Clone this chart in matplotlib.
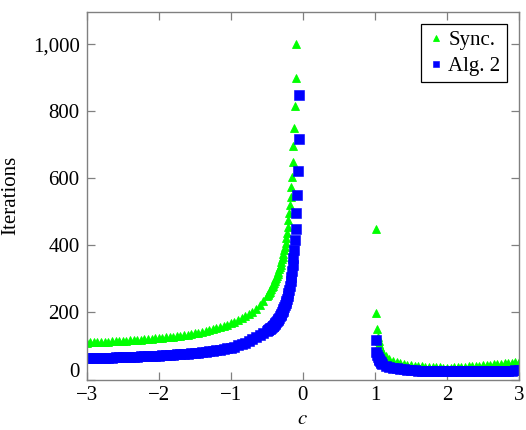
import matplotlib
matplotlib.use("Agg")
import matplotlib.pyplot as plt
import matplotlib.transforms as mtransforms
from matplotlib.ticker import FuncFormatter

plt.rcParams['font.family'] = ['Liberation Serif', 'DejaVu Serif']
plt.rcParams['mathtext.fontset'] = 'stix'

# ---------------- data ----------------
# left branch, c < 0
c_left_sync = [-3.00, -2.95, -2.90, -2.85, -2.80, -2.75, -2.70, -2.65, -2.60, -2.55,
               -2.50, -2.45, -2.40, -2.35, -2.30, -2.25, -2.20, -2.15, -2.10, -2.05,
               -2.00, -1.95, -1.90, -1.85, -1.80, -1.75, -1.70, -1.65, -1.60, -1.55,
               -1.50, -1.45, -1.40, -1.35, -1.30, -1.25, -1.20, -1.15, -1.10, -1.05,
               -1.00, -0.95, -0.90, -0.85, -0.80, -0.75, -0.70, -0.65, -0.60, -0.55,
               -0.50, -0.49, -0.48, -0.47, -0.46, -0.45, -0.44, -0.43, -0.42, -0.41,
               -0.40, -0.39, -0.38, -0.37, -0.36, -0.35, -0.34, -0.33, -0.32, -0.31,
               -0.30, -0.29, -0.28, -0.27, -0.26, -0.25, -0.24, -0.23, -0.22, -0.21,
               -0.20, -0.19, -0.18, -0.17, -0.16, -0.15, -0.14, -0.13, -0.12, -0.11,
               -0.10, -0.09]
sync_left = [110, 111, 111, 112, 112, 113, 113, 114, 114, 115,
             116, 116, 117, 118, 118, 119, 120, 121, 122, 123,
             124, 125, 126, 127, 128, 130, 131, 133, 134, 136,
             138, 140, 142, 144, 147, 150, 153, 156, 160, 164,
             168, 172, 177, 182, 188, 195, 202, 211, 221, 233,
             248, 251, 255, 258, 262, 266, 270, 275, 279, 284,
             289, 294, 299, 304, 310, 316, 322, 329, 336, 343,
             350, 358, 366, 375, 385, 396, 408, 421, 436, 455,
             476, 497, 521, 545, 575, 605, 650, 695, 751, 817,
             898, 1000]

c_left_alg2 = [-3.00, -2.95, -2.90, -2.85, -2.80, -2.75, -2.70, -2.65, -2.60, -2.55,
               -2.50, -2.45, -2.40, -2.35, -2.30, -2.25, -2.20, -2.15, -2.10, -2.05,
               -2.00, -1.95, -1.90, -1.85, -1.80, -1.75, -1.70, -1.65, -1.60, -1.55,
               -1.50, -1.45, -1.40, -1.35, -1.30, -1.25, -1.20, -1.15, -1.10, -1.05,
               -1.00, -0.95, -0.90, -0.85, -0.80, -0.75, -0.70, -0.65, -0.60, -0.55,
               -0.50, -0.49, -0.48, -0.47, -0.46, -0.45, -0.44, -0.43, -0.42, -0.41,
               -0.40, -0.39, -0.38, -0.37, -0.36, -0.35, -0.34, -0.33, -0.32, -0.31,
               -0.30, -0.29, -0.28, -0.27, -0.26, -0.25, -0.24, -0.23, -0.22, -0.21,
               -0.20, -0.19, -0.18, -0.17, -0.16, -0.15, -0.14, -0.13, -0.12, -0.11,
               -0.10, -0.09, -0.08, -0.07, -0.06, -0.05]
alg2_left = [63, 63, 63, 64, 64, 64, 65, 65, 66, 66,
             67, 67, 67, 68, 68, 69, 69, 70, 70, 71,
             71, 72, 73, 73, 74, 75, 76, 77, 77, 78,
             79, 80, 81, 83, 84, 85, 87, 89, 91, 93,
             95, 98, 102, 106, 110, 115, 121, 128, 134, 140,
             146, 147, 148, 150, 151, 153, 155, 157, 159, 161,
             163, 165, 168, 171, 174, 177, 180, 184, 188, 192,
             196, 200, 205, 210, 215, 221, 227, 234, 241, 249,
             258, 268, 280, 293, 307, 323, 341, 362, 386, 416,
             450, 496, 551, 623, 718, 848]

# right branch, c > 1
c_right = [1.01, 1.02, 1.03, 1.04, 1.05, 1.06, 1.07, 1.08, 1.09, 1.10,
           1.15, 1.20, 1.25, 1.30, 1.35, 1.40, 1.45, 1.50, 1.55, 1.60,
           1.65, 1.70, 1.75, 1.80, 1.85, 1.90, 1.95, 2.00, 2.05, 2.10,
           2.15, 2.20, 2.25, 2.30, 2.35, 2.40, 2.45, 2.50, 2.55, 2.60,
           2.65, 2.70, 2.75, 2.80, 2.85, 2.90, 2.95, 3.00]
sync_right = [448, 197, 152, 128, 114, 105, 98, 92, 87, 83,
              70, 62, 56, 52, 49, 46, 44, 43, 41, 40,
              39, 38, 37, 37, 36, 36, 35, 35, 35, 36,
              36, 37, 38, 39, 40, 41, 41, 42, 43, 44,
              45, 46, 47, 48, 49, 50, 51, 52]
alg2_right = [119, 81, 72, 66, 61, 57, 54, 51, 49, 47,
              41, 37, 35, 33, 31, 30, 29, 28, 27, 26,
              26, 25, 25, 24, 24, 24, 24, 24, 24, 24,
              24, 24, 24, 24, 24, 24, 24, 24, 25, 25,
              25, 25, 26, 26, 26, 26, 27, 27]

x_ticks = [-3, -2, -1, 0, 1, 2, 3]
y_ticks = [0, 200, 400, 600, 800, 1000]

# ---------------- figure ----------------
fig = plt.figure(figsize=(5.26, 4.30), dpi=100)
ax = fig.add_axes([0.1648, 0.1174, 0.8219, 0.8554])

green = '#00ff00'
blue = '#0000ff'

ax.plot(c_left_sync + c_right, sync_left + sync_right, linestyle='none',
        marker='^', markersize=6.4, color=green, markeredgewidth=0.6,
        markeredgecolor=green, label='Sync.')
ax.plot(c_left_alg2 + c_right, alg2_left + alg2_right, linestyle='none',
        marker='s', markersize=6.6, color=blue, markeredgewidth=0.4,
        markeredgecolor=blue, label='Alg. 2')

ax.set_xlim(-3, 3)
ax.set_ylim(0, 1097)
ax.set_xticks(x_ticks)
ax.set_yticks(y_ticks)
ax.yaxis.set_major_formatter(FuncFormatter(lambda v, p: f'{int(v):,}'))

for s in ax.spines.values():
    s.set_color('#808080')
    s.set_linewidth(1.0)
ax.tick_params(direction='in', length=5.5, width=0.9, color='#808080',
               labelsize=15, top=True, right=True, pad=5.0)

ax.set_xlabel('$c$', fontsize=15, labelpad=3)
ax.set_ylabel('Iterations', fontsize=15, labelpad=9)

leg = ax.legend(loc='upper right', fontsize=15, frameon=True, fancybox=False,
                framealpha=1, edgecolor='black', handlelength=0.8,
                handletextpad=0.2, borderpad=0.3, labelspacing=0.3,
                borderaxespad=0.6, markerscale=0.75)
leg.get_frame().set_linewidth(0.9)

# the "0" label sits a little higher in the reference, clear of the x labels
fig.canvas.draw()
zero_lbl = ax.get_yticklabels()[0]
zero_lbl.set_transform(zero_lbl.get_transform() +
                       mtransforms.ScaledTranslation(0, 7 / 72, fig.dpi_scale_trans))

fig.savefig('out.png', dpi=100)
